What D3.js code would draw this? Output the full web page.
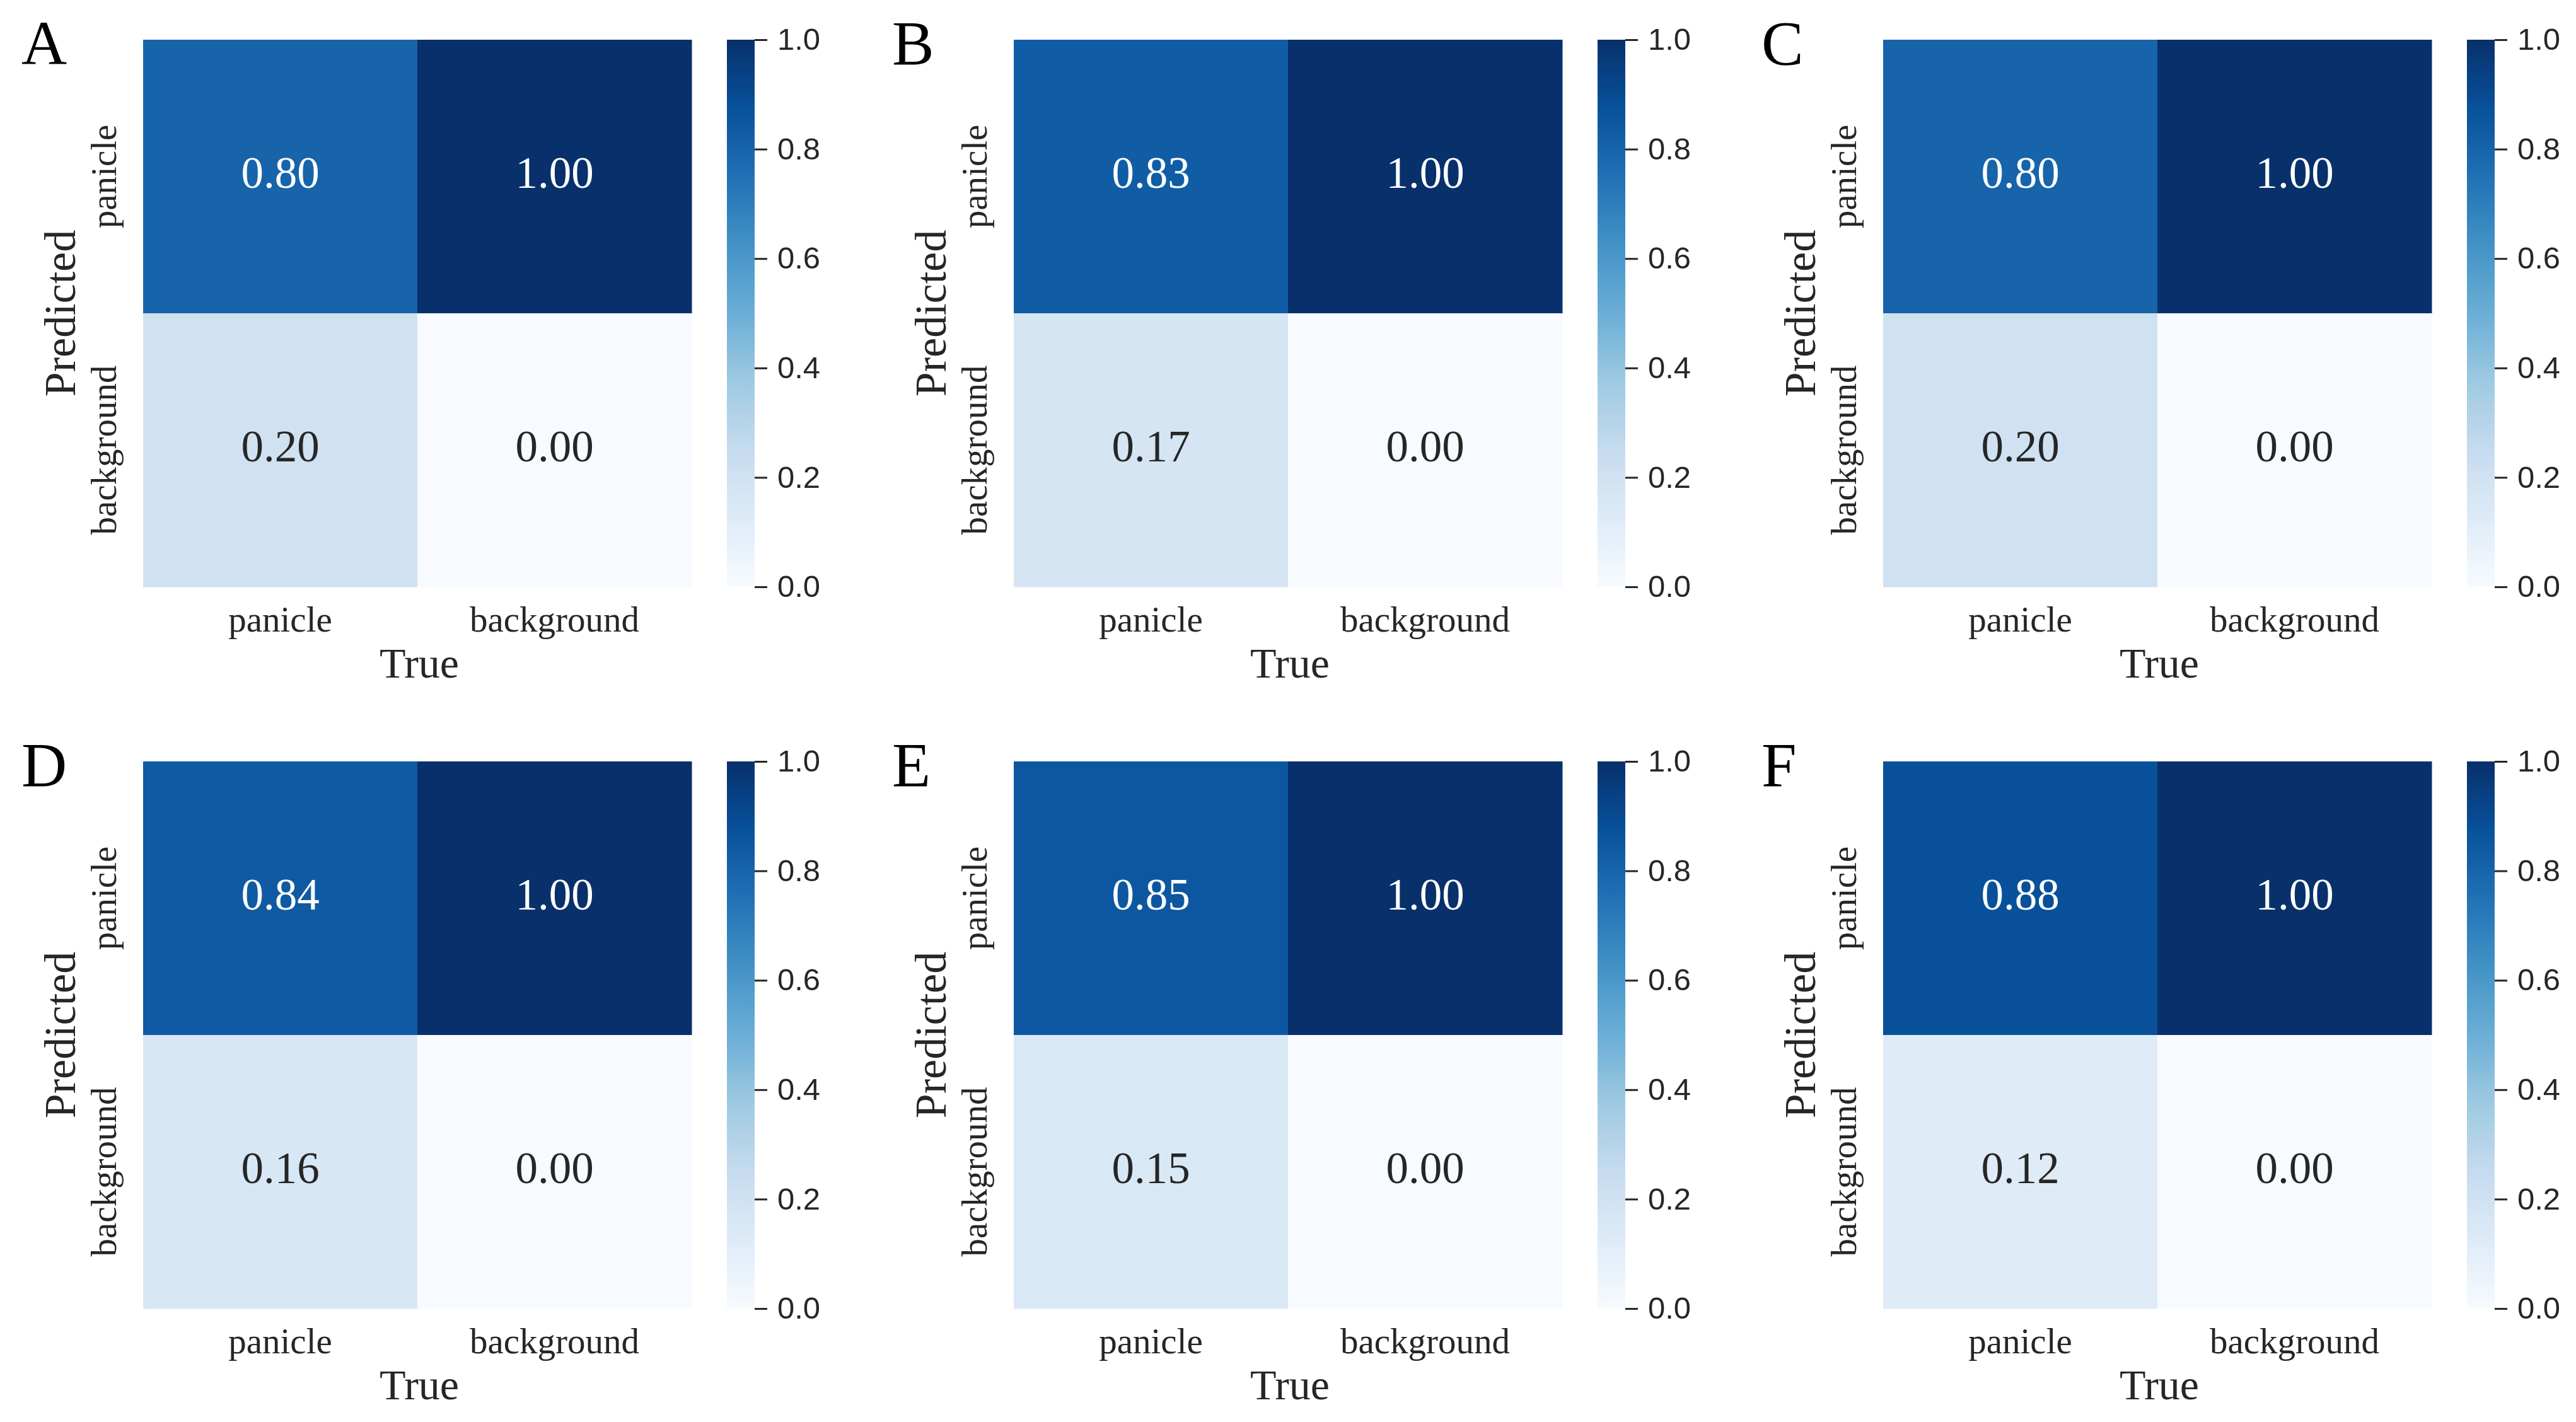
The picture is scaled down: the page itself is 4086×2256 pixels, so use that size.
<!DOCTYPE html>
<html><head><meta charset="utf-8">
<script src="https://cdn.jsdelivr.net/npm/d3@7"></script>
<style>html,body{margin:0;padding:0;background:#fff;}</style>
</head><body>
<svg id="chart" width="4086" height="2256"></svg>
<script>
// ---- data ----
const panelLetters = ["A", "B", "C", "D", "E", "F"];
const categories = ["panicle", "background"];
// True panicle column: predicted panicle / predicted background
const panicleAsPanicle = [0.80, 0.83, 0.80, 0.84, 0.85, 0.88];
const panicleAsBackground = [0.20, 0.17, 0.20, 0.16, 0.15, 0.12];
// True background column: predicted panicle / predicted background
const backgroundAsPanicle = [1.00, 1.00, 1.00, 1.00, 1.00, 1.00];
const backgroundAsBackground = [0.00, 0.00, 0.00, 0.00, 0.00, 0.00];
const colorbarTicks = [0.0, 0.2, 0.4, 0.6, 0.8, 1.0];
const xTitle = "True";
const yTitle = "Predicted";

// matplotlib "Blues" colormap anchors
const bluesAnchors = ["#f7fbff", "#deebf7", "#c6dbef", "#9ecae1", "#6baed6", "#4292c6", "#2171b5", "#08519c", "#08306b"];
const color = d3.scaleLinear()
  .domain(d3.range(bluesAnchors.length).map(i => i / (bluesAnchors.length - 1)))
  .range(bluesAnchors)
  .interpolate(d3.interpolateRgb)
  .clamp(true);

const svg = d3.select("#chart");
svg.append("rect").attr("width", 4086).attr("height", 2256).attr("fill", "#fff");

const W = 870, H = 868;
const colX = [227, 1608, 2987];
const rowY = [63, 1208];
const serif = "'Liberation Serif','Times New Roman',serif";
const sans = "'Liberation Sans',Arial,sans-serif";
const textDark = "#262626";

// gradient for colorbar
const defs = svg.append("defs");
const grad = defs.append("linearGradient").attr("id", "bluesGrad")
  .attr("x1", 0).attr("y1", 1).attr("x2", 0).attr("y2", 0);
d3.range(0, 1.0001, 0.02).forEach(t => {
  grad.append("stop").attr("offset", t).attr("stop-color", color(t));
});

function luminance(c) {
  const rgb = d3.rgb(c);
  const f = v => { v /= 255; return v <= 0.03928 ? v / 12.92 : Math.pow((v + 0.055) / 1.055, 2.4); };
  return 0.2126 * f(rgb.r) + 0.7152 * f(rgb.g) + 0.0722 * f(rgb.b);
}

const x = d3.scaleBand().domain(categories).range([0, W]);
const y = d3.scaleBand().domain(categories).range([0, H]);
const cb = d3.scaleLinear().domain([0, 1]).range([H, 0]);

panelLetters.forEach((letter, i) => {
  const ox = colX[i % 3], oy = rowY[Math.floor(i / 3)];
  const g = svg.append("g").attr("transform", `translate(${ox},${oy})`);

  const cells = [
    { t: "panicle", p: "panicle", v: panicleAsPanicle[i] },
    { t: "background", p: "panicle", v: backgroundAsPanicle[i] },
    { t: "panicle", p: "background", v: panicleAsBackground[i] },
    { t: "background", p: "background", v: backgroundAsBackground[i] }
  ];

  g.selectAll("rect.cell").data(cells).join("rect")
    .attr("class", "cell")
    .attr("x", d => x(d.t)).attr("y", d => y(d.p))
    .attr("width", x.bandwidth() + 0.5).attr("height", y.bandwidth() + 0.5)
    .attr("fill", d => color(d.v));

  g.selectAll("text.ann").data(cells).join("text")
    .attr("class", "ann")
    .attr("x", d => x(d.t) + x.bandwidth() / 2)
    .attr("y", d => y(d.p) + y.bandwidth() / 2)
    .attr("dy", "0.25em")
    .attr("text-anchor", "middle")
    .attr("font-family", serif).attr("font-size", 71)
    .attr("fill", d => luminance(color(d.v)) < 0.408 ? "#ffffff" : textDark)
    .text(d => d3.format(".2f")(d.v));

  // x tick labels
  g.selectAll("text.xt").data(categories).join("text")
    .attr("class", "xt")
    .attr("x", d => x(d) + x.bandwidth() / 2).attr("y", H + 71)
    .attr("text-anchor", "middle")
    .attr("font-family", serif).attr("font-size", 57).attr("fill", textDark)
    .text(d => d);

  // y tick labels (rotated)
  g.selectAll("text.yt").data(categories).join("text")
    .attr("class", "yt")
    .attr("transform", d => `translate(-43,${y(d) + y.bandwidth() / 2}) rotate(-90)`)
    .attr("text-anchor", "middle")
    .attr("font-family", serif).attr("font-size", 57).attr("fill", textDark)
    .text(d => d);

  // axis titles
  g.append("text")
    .attr("x", W / 2 + 3).attr("y", H + 144)
    .attr("text-anchor", "middle")
    .attr("font-family", serif).attr("font-size", 68).attr("fill", textDark)
    .text(xTitle);
  g.append("text")
    .attr("transform", `translate(-108,${H / 2}) rotate(-90)`)
    .attr("text-anchor", "middle")
    .attr("font-family", serif).attr("font-size", 70).attr("fill", textDark)
    .text(yTitle);

  // panel letter
  g.append("text")
    .attr("x", -193).attr("y", 39)
    .attr("font-family", serif).attr("font-size", 100).attr("fill", "#000")
    .text(letter);

  // colorbar
  const cbg = g.append("g").attr("transform", `translate(${W + 56},0)`);
  cbg.append("rect").attr("width", 44).attr("height", H).attr("fill", "url(#bluesGrad)");
  const axis = d3.axisRight(cb).tickValues(colorbarTicks).tickFormat(d3.format(".1f"))
    .tickSize(20).tickPadding(16);
  const ag = cbg.append("g").attr("transform", "translate(44,0)").call(axis);
  ag.select(".domain").remove();
  ag.selectAll(".tick line").attr("stroke", textDark).attr("stroke-width", 3);
  ag.selectAll(".tick text").attr("font-family", sans).attr("font-size", 49).attr("fill", textDark);
});
</script>
</body></html>
